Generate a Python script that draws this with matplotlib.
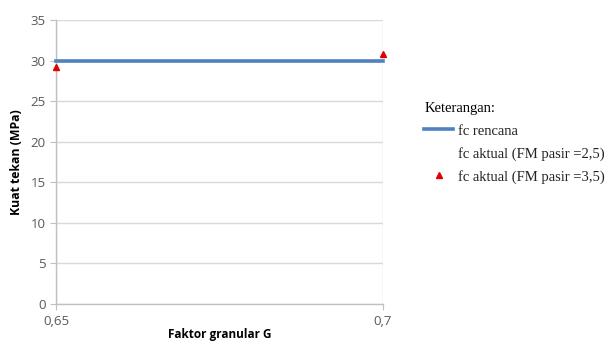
import matplotlib
matplotlib.use("Agg")
import matplotlib.pyplot as plt
from matplotlib.lines import Line2D

x_vals = [0.65, 0.7]
fc_rencana = [30, 30]
fc_aktual_35 = [29.2, 30.8]
y_ticks = [0, 5, 10, 15, 20, 25, 30, 35]
x_ticks = [0.65, 0.7]
x_ticklabels = ["0,65", "0,7"]

fig = plt.figure(figsize=(6.12, 3.45), dpi=100)
ax = fig.add_axes([56/612, 1-304/345, (383-56)/612, (304-20)/345])

ax.plot(x_vals, fc_rencana, color="#4f81bd", lw=2.6, zorder=3, clip_on=False)
ax.plot(x_vals, fc_aktual_35, linestyle="none", marker="^", color="#e00000",
        markersize=5, zorder=4, clip_on=False)

ax.set_xlim(0.65, 0.7)
ax.set_ylim(0, 35)
ax.set_yticks(y_ticks)
ax.set_xticks(x_ticks)
ax.set_xticklabels(x_ticklabels)

for s in ["top", "right"]:
    ax.spines[s].set_visible(False)
for s in ["left", "bottom"]:
    ax.spines[s].set_color("#c0c0c0")
    ax.spines[s].set_linewidth(1.0)
ax.grid(True, color="#d9d9d9", lw=1.0)
ax.set_axisbelow(True)
ax.tick_params(axis="both", direction="out", length=4, color="#c0c0c0",
               labelsize=9.5, labelcolor="#595959")
ax.tick_params(axis="x", pad=4)
for lab in ax.get_xticklabels() + ax.get_yticklabels():
    lab.set_family("Open Sans")

ax.set_ylabel("Kuat tekan (MPa)", fontsize=8.8, fontweight="bold", family="Open Sans", labelpad=5)
ax.set_xlabel("Faktor granular G", fontsize=8.5, fontweight="bold", family="Open Sans", labelpad=0)

handles = [
    Line2D([], [], color="#4f81bd", lw=2.6),
    Line2D([], [], linestyle="none", marker="", color="none"),
    Line2D([], [], linestyle="none", marker="^", color="#e00000", markersize=5),
]
labels = ["fc rencana", "fc aktual (FM pasir =2,5)", "fc aktual (FM pasir =3,5)"]
leg = fig.legend(handles, labels, title="Keterangan:", loc="upper left",
                 bbox_to_anchor=(417/612, 1-95/345), frameon=False,
                 prop={"family": "Liberation Serif", "size": 10.5},
                 title_fontproperties={"family": "Liberation Serif", "size": 10.5},
                 alignment="left", labelspacing=0.62, handlelength=2.0,
                 handletextpad=0.3, borderpad=0)
for t in leg.get_texts():
    t.set_color("#222222")

fig.savefig("out.png", dpi=100)
